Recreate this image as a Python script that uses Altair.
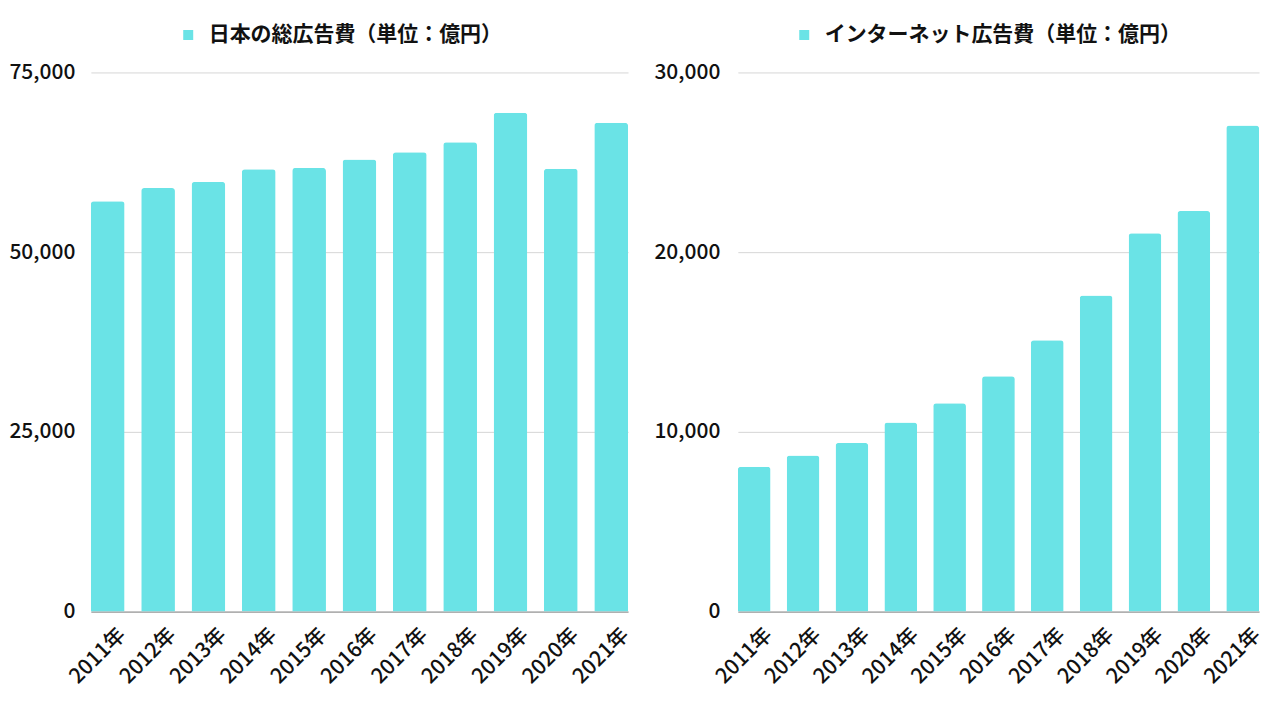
import altair as alt
import pandas as pd

years = ["2011年", "2012年", "2013年", "2014年", "2015年", "2016年",
         "2017年", "2018年", "2019年", "2020年", "2021年"]
total_ad = [57096, 58913, 59762, 61522, 61710, 62880, 63907, 65300, 69381, 61594, 67998]
internet_ad = [8062, 8680, 9381, 10519, 11594, 13100, 15094, 17589, 21048, 22290, 27052]
titles = ["日本の総広告費（単位：億円）", "インターネット広告費（単位：億円）"]
ticks_total = [0, 25000, 50000, 75000]
ticks_net = [0, 10000, 20000, 30000]

BAR = "#6AE3E6"
FONT = "Noto Sans CJK JP"


def panel(values, title, ticks, ymax, legend_x, width, label_pad):
    df = pd.DataFrame({"year": years, "value": values, "series": title})
    return alt.Chart(df).mark_bar(
        cornerRadiusTopLeft=3, cornerRadiusTopRight=3
    ).encode(
        x=alt.X("year:N", sort=years, title=None,
                scale=alt.Scale(paddingInner=0.33, paddingOuter=0),
                axis=alt.Axis(labelAngle=-45, ticks=False, domain=True,
                              domainColor="#9e9e9e", domainWidth=1.2,
                              labelFontSize=21, labelPadding=12, labelOffset=7,
                              grid=False)),
        y=alt.Y("value:Q", title=None,
                scale=alt.Scale(domain=[0, ymax], nice=False),
                axis=alt.Axis(values=ticks, format=",d", ticks=False, domain=False,
                              grid=True, gridColor="#d6d6d6", gridWidth=1,
                              labelFontSize=21, labelPadding=label_pad)),
        color=alt.Color("series:N", scale=alt.Scale(range=[BAR]),
                        legend=alt.Legend(orient="none", legendX=legend_x, legendY=-48,
                                          title=None, symbolType="square", symbolSize=100,
                                          symbolStrokeWidth=0,
                                          labelFontSize=21, labelFontWeight="bold",
                                          labelLimit=700, labelOffset=10)),
    ).properties(width=width, height=540)


left = panel(total_ad, titles[0], ticks_total, 75000, 87, 538, 16)
right = panel(internet_ad, titles[1], ticks_net, 30000, 56, 522, 18)

chart = alt.hconcat(left, right, spacing=20).resolve_scale(
    color="independent", y="independent", x="independent"
).properties(
    padding={"left": 0, "top": 16, "right": 8, "bottom": 0}
).configure(font=FONT).configure_axis(
    labelFont=FONT, labelColor="#111111", labelFontWeight=500
).configure_legend(labelFont=FONT, labelColor="#111111").configure_view(stroke=None)

chart.save("out.html", embed_options={"renderer": "svg", "actions": False})
